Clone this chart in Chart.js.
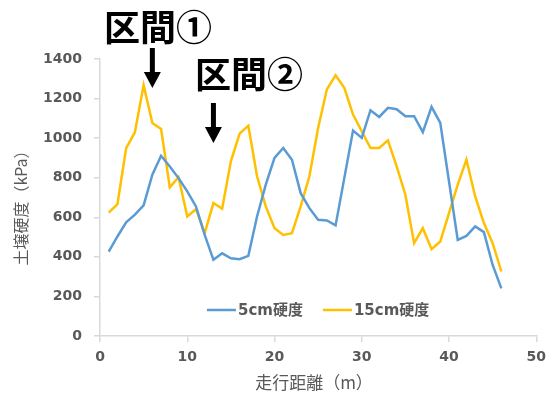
<!DOCTYPE html>
<html>
<head>
<meta charset="utf-8">
<script src="https://cdn.jsdelivr.net/npm/chart.js@4"></script>
<style>
  html, body { margin: 0; padding: 0; background: #ffffff; }
  #wrap { width: 553px; height: 394px; position: relative; }
</style>
</head>
<body>
<div id="wrap"><canvas id="c" width="553" height="394"></canvas></div>
<script>
// Travel distance (m) at each measurement point
const distances = [1,2,3,4,5,6,7,8,9,10,11,12,13,14,15,16,17,18,19,20,21,22,23,
  24,25,26,27,28,29,30,31,32,33,34,35,36,37,38,39,40,41,42,43,44,45,46];

// Soil hardness (kPa) at 5 cm depth
const hardness5cm = [427,503,575,613,660,815,911,857,798,731,655,511,385,418,393,388,
  405,604,765,900,950,891,722,646,587,584,559,798,1038,1001,1141,1107,1153,1146,
  1111,1111,1030,1158,1077,781,486,506,554,525,359,241];

// Soil hardness (kPa) at 15 cm depth
const hardness15cm = [624,667,950,1030,1268,1077,1046,751,803,604,641,520,672,643,883,
  1023,1063,807,655,545,511,520,655,807,1051,1246,1318,1254,1119,1035,950,950,989,
  857,714,469,545,439,478,621,765,891,705,571,469,326];

const seriesNames = ['5cm硬度', '15cm硬度'];
const xTitle = '走行距離（m）';
const yTitle = '土壌硬度（kPa）';
const sectionLabels = ['区間①', '区間②'];

const GRAY = '#595959';
const AXIS = '#d9d9d9';
const FAMILY = '"DejaVu Sans", "Noto Sans CJK JP", sans-serif';
const CJK = '"Noto Sans CJK JP", "DejaVu Sans", sans-serif';

const toPoints = (vals) => vals.map((v, i) => ({ x: distances[i], y: v }));

// Legend drawn inside the plot, near the bottom
const innerLegend = {
  id: 'innerLegend',
  afterDatasetsDraw(chart) {
    const ctx = chart.ctx;
    const area = chart.chartArea;
    ctx.save();
    ctx.font = 'bold 15px ' + FAMILY;
    const lineLen = 29, gap = 2, itemGap = 20;
    const items = chart.data.datasets.map(ds => ({
      label: ds.label, color: ds.borderColor, w: lineLen + gap + ctx.measureText(ds.label).width
    }));
    const total = items.reduce((s, it) => s + it.w, 0) + itemGap * (items.length - 1);
    let x = (area.left + area.right) / 2 - total / 2;
    const y = 310;
    items.forEach(it => {
      ctx.strokeStyle = it.color;
      ctx.lineWidth = 2.5;
      ctx.beginPath();
      ctx.moveTo(x, y);
      ctx.lineTo(x + lineLen, y);
      ctx.stroke();
      ctx.fillStyle = GRAY;
      ctx.textBaseline = 'middle';
      ctx.textAlign = 'left';
      ctx.fillText(it.label, x + lineLen + gap, y + 1);
      x += it.w + itemGap;
    });
    ctx.restore();
  }
};

// Axis titles and the section callouts with arrows
const decorations = {
  id: 'decorations',
  afterDraw(chart) {
    const ctx = chart.ctx;
    const xs = chart.scales.x;
    ctx.save();
    ctx.fillStyle = GRAY;
    ctx.textAlign = 'center';
    ctx.textBaseline = 'middle';
    ctx.font = '17px ' + CJK;
    ctx.fillText(xTitle, 314, 383);
    ctx.font = '16px ' + CJK;
    ctx.translate(21, 204);
    ctx.rotate(-Math.PI / 2);
    ctx.fillText(yTitle, 0, 0);
    ctx.restore();

    const callouts = [
      { text: sectionLabels[0], at: 6, tx: 158, ty: 27, y0: 48, y1: 88 },
      { text: sectionLabels[1], at: 13, tx: 249, ty: 74, y0: 103, y1: 143 }
    ];
    ctx.save();
    ctx.fillStyle = '#000000';
    ctx.strokeStyle = '#000000';
    callouts.forEach(c => {
      ctx.font = 'bold 36px ' + CJK;
      ctx.textAlign = 'center';
      ctx.textBaseline = 'middle';
      ctx.fillText(c.text, c.tx, c.ty);
      const ax = xs.getPixelForValue(c.at);
      ctx.lineWidth = 5;
      ctx.beginPath();
      ctx.moveTo(ax, c.y0);
      ctx.lineTo(ax, c.y1 - 14);
      ctx.stroke();
      ctx.beginPath();
      ctx.moveTo(ax - 8.5, c.y1 - 16);
      ctx.lineTo(ax + 8.5, c.y1 - 16);
      ctx.lineTo(ax, c.y1);
      ctx.closePath();
      ctx.fill();
    });
    ctx.restore();
  }
};

new Chart(document.getElementById('c'), {
  type: 'line',
  data: {
    datasets: [
      { label: seriesNames[0], data: toPoints(hardness5cm), borderColor: '#5B9BD5', backgroundColor: '#5B9BD5' },
      { label: seriesNames[1], data: toPoints(hardness15cm), borderColor: '#FFC000', backgroundColor: '#FFC000' }
    ]
  },
  options: {
    responsive: false,
    animation: false,
    layout: { padding: { left: 0, top: 59, right: 14, bottom: 0 } },
    elements: {
      line: { borderWidth: 2.5, tension: 0 },
      point: { radius: 0 }
    },
    plugins: {
      legend: { display: false },
      tooltip: { enabled: false }
    },
    scales: {
      x: {
        type: 'linear',
        min: 0, max: 50,
        ticks: { stepSize: 10, color: GRAY, font: { family: FAMILY, size: 14, weight: 'bold' }, padding: 7, maxRotation: 0,
          callback: (v) => String(v) },
        grid: { display: true, drawOnChartArea: false, tickLength: 6, color: AXIS, lineWidth: 1.5 },
        border: { color: AXIS, width: 1.5 },
        afterFit(s) { s.height = 58; }
      },
      y: {
        min: 0, max: 1400,
        ticks: { stepSize: 200, color: GRAY, font: { family: FAMILY, size: 14, weight: 'bold' }, padding: 12,
          callback: (v) => String(v) },
        grid: { display: true, drawOnChartArea: false, tickLength: 6, color: AXIS, lineWidth: 1.5 },
        border: { color: AXIS, width: 1.5 },
        afterFit(s) { s.width = 100; }
      }
    }
  },
  plugins: [innerLegend, decorations]
});
</script>
</body>
</html>
